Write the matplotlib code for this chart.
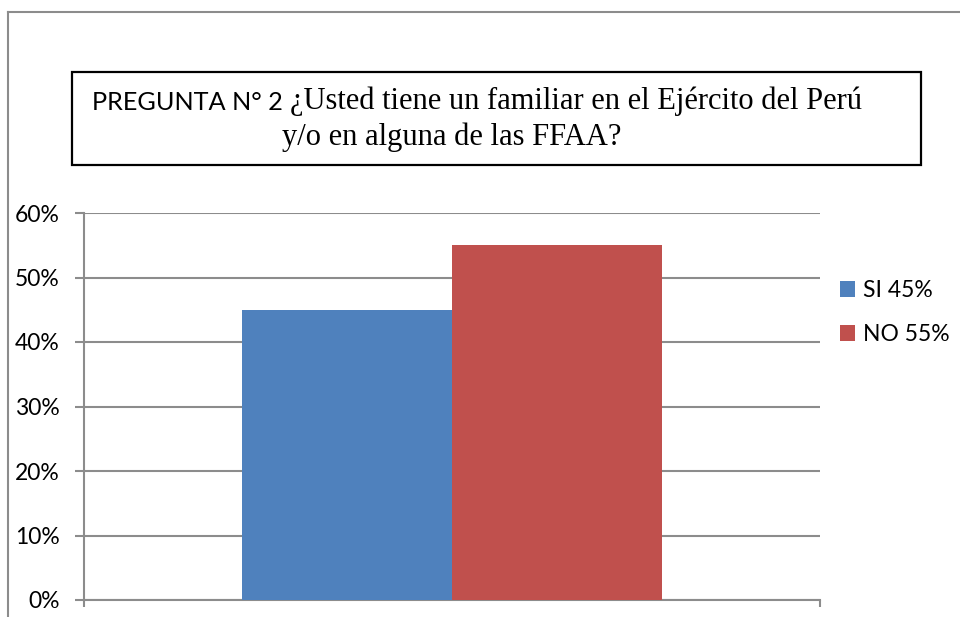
import matplotlib
matplotlib.use("Agg")
import matplotlib.pyplot as plt
from matplotlib.patches import Rectangle
from matplotlib.lines import Line2D
from matplotlib.ticker import PercentFormatter

# ---- data ----
series_labels = ["SI 45%", "NO 55%"]
series_values = [0.45, 0.55]
series_colors = ["#4F81BD", "#C0504D"]
y_ticks = [0.0, 0.1, 0.2, 0.3, 0.4, 0.5, 0.6]
title_sans = "PREGUNTA N° 2"
title_serif_1 = "¿Usted tiene un familiar en el Ejército del Perú"
title_serif_2 = "y/o en alguna de las FFAA?"

W, H = 960, 617
fig = plt.figure(figsize=(W / 100, H / 100), dpi=100)

def fx(px):
    return px / W

def fy(py):
    return 1 - py / H

sans = ["Lato", "DejaVu Sans"]
serif = ["Liberation Serif", "DejaVu Serif"]
grid_c = "#8c8c8c"

# outer border (chart area)
fig.add_artist(Line2D([fx(8), fx(8)], [0, fy(12)], color=grid_c, lw=1.5))
fig.add_artist(Line2D([fx(8), 1], [fy(12), fy(12)], color=grid_c, lw=1.5))

# title box
fig.add_artist(Rectangle((fx(72), fy(165)), fx(921) - fx(72), fy(72) - fy(165),
                         transform=fig.transFigure, fill=False, ec="black", lw=1.6))
fig.text(fx(92), fy(110), title_sans, family=sans, fontsize=18.2,
         va="baseline", ha="left", color="black")
fig.text(fx(290), fy(109), title_serif_1, family=serif, fontsize=22,
         va="baseline", ha="left", color="black")
fig.text(fx(282), fy(145), title_serif_2, family=serif, fontsize=22,
         va="baseline", ha="left", color="black")

# axes
ax = fig.add_axes([fx(84), fy(600), fx(820) - fx(84), fy(213) - fy(600)])
ax.set_xlim(0, 1)
ax.set_ylim(0, 0.6)
bar_w = 210 / 736
center = 0.5
handles = []
for i, (lab, v, c) in enumerate(zip(series_labels, series_values, series_colors)):
    x0 = center - bar_w + i * bar_w
    b = ax.bar(x0, v, width=bar_w, align="edge", color=c, label=lab, zorder=3)
    handles.append(b)

ax.set_yticks(y_ticks)
ax.yaxis.set_major_formatter(PercentFormatter(1.0, decimals=0))
ax.grid(axis="y", color=grid_c, lw=1.5, zorder=0)
ax.set_xticks([0, 1])
ax.set_xticklabels([])
for s in ["top", "right"]:
    ax.spines[s].set_visible(False)
for s in ["left", "bottom"]:
    ax.spines[s].set_color(grid_c)
    ax.spines[s].set_linewidth(1.5)
ax.tick_params(axis="y", length=6.5, width=1.5, color=grid_c, pad=11,
               labelsize=16.5, labelcolor="black")
ax.tick_params(axis="x", length=5, width=1.5, color=grid_c)
for t in ax.get_yticklabels():
    t.set_family(sans)

leg = fig.legend(handles=handles, labels=series_labels, loc="upper left",
                 bbox_to_anchor=(fx(840), fy(280)), frameon=False,
                 prop={"family": sans, "size": 16.5}, handlelength=0.65,
                 handleheight=0.65, handletextpad=0.35, labelspacing=1.0,
                 borderpad=0, borderaxespad=0)

fig.savefig("out.png", dpi=100, facecolor="white")
